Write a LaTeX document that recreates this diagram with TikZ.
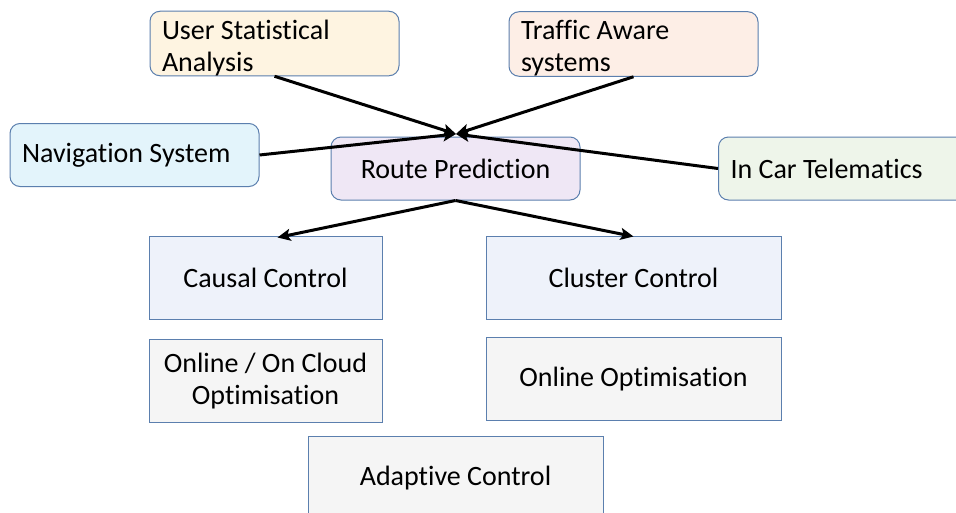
\documentclass[tikz,border=0pt]{standalone}
\usepackage{fontspec}
\setmainfont{Carlito}[Ligatures={NoCommon}]
\usetikzlibrary{arrows.meta,calc}
\definecolor{bordercol}{HTML}{5B7FAE}
\definecolor{cream}{HTML}{FEF4E1}
\definecolor{peach}{HTML}{FDEEE6}
\definecolor{skyfill}{HTML}{E3F4FB}
\definecolor{lavfill}{HTML}{EFE7F5}
\definecolor{greenfill}{HTML}{EEF5EA}
\definecolor{bluefill}{HTML}{EEF2FA}
\definecolor{greyfill}{HTML}{F5F5F5}
\begin{document}
\begin{tikzpicture}[x=1pt,y=-1pt,
  txt/.style={font=\fontsize{28}{32}\selectfont},
  rbox/.style={txt,draw=bordercol,line width=1pt,rounded corners=10pt,
    minimum width=249pt,minimum height=63pt,inner xsep=12pt,inner ysep=0pt},
  lbox/.style={rbox,text width=225pt,align=flush left},
  sbox/.style={txt,draw=bordercol,line width=1pt,minimum height=83pt,
    align=center,inner sep=0pt},
  arr/.style={line width=3pt,-{Stealth[length=13pt,width=12pt,inset=3pt]}}]
\useasboundingbox (0,0) rectangle (956,512);
\clip (0,0) rectangle (956,512);
\fill[white] (0,0) rectangle (956,512);

\node[lbox,fill=cream] (usa) at (274.5,43.5) {\rule{0pt}{28pt}User Statistical\\Analysis};
\node[lbox,fill=peach] (tas) at (633.5,44) {\rule{0pt}{28pt}Traffic Aware\\systems};
\node[lbox,fill=skyfill] (nav) at (134.5,155) {Navigation System};
\node[rbox,fill=lavfill] (rp) at (455.5,168.5) {Route Prediction};
\node[lbox,fill=greenfill] (ict) at (843,168.5) {In Car Telematics};

\node[sbox,fill=bluefill,minimum width=233pt] (cc) at (265.5,277.5) {Causal Control};
\node[sbox,fill=bluefill,minimum width=295pt] (cl) at (633.5,277.5) {Cluster Control};
\node[sbox,fill=greyfill,minimum width=233pt] (oc) at (265.5,381) {Online / On Cloud\\Optimisation};
\node[sbox,fill=greyfill,minimum width=295pt] (oo) at (633.5,379) {Online Optimisation};
\node[sbox,fill=greyfill,minimum width=295pt,minimum height=84pt] (ac) at (455.5,478) {Adaptive Control};

\coordinate (m) at (456,134);
\draw[arr] (usa.south) -- (m);
\draw[arr] (tas.south) -- (m);
\draw[arr] (nav.east) -- (m);
\draw[arr] (ict.west) -- (m);
\draw[arr] (rp.south) -- ($(cc.north)+(12,2)$);
\draw[arr] (rp.south) -- ($(cl.north)+(0,1)$);
\end{tikzpicture}
\end{document}
